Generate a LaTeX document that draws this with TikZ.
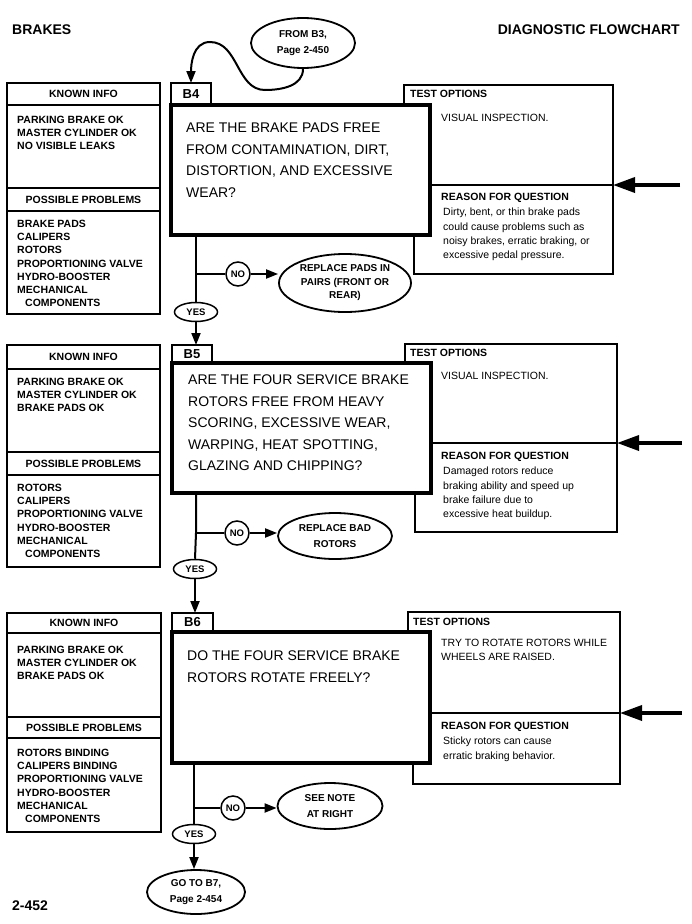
\documentclass[tikz,border=0pt]{standalone}
\usepackage{fontspec}
\setmainfont{Liberation Sans}
\usetikzlibrary{arrows.meta,shapes.geometric}
\begin{document}
\begin{tikzpicture}[x=1pt,y=1pt,
  box/.style={draw, line width=1.1pt, inner sep=0pt, outer sep=0pt, fill=white},
  thinl/.style={line width=1.1pt},
  qbox/.style={draw, line width=4pt, inner sep=0pt, outer sep=0pt, fill=white},
  hd/.style={font=\fontsize{10.5}{12}\selectfont\bfseries, inner sep=0pt},
  lst/.style={font=\fontsize{10.5}{13.1}\selectfont\bfseries, align=left, inner sep=0pt, anchor=north west},
  rsn/.style={font=\fontsize{10.5}{14.2}\selectfont, align=left, inner sep=0pt, anchor=north west},
  qtxt/.style={font=\fontsize{14}{21.5}\selectfont, align=left, inner sep=0pt, anchor=north west},
  blab/.style={font=\fontsize{13}{14}\selectfont\bfseries},
  oval/.style={draw, ellipse, line width=1.8pt, fill=white, inner sep=0pt, align=center, font=\fontsize{10}{15.5}\selectfont\bfseries},
  small/.style={draw, ellipse, line width=1.5pt, fill=white, inner sep=0pt, font=\fontsize{9.5}{10}\selectfont\bfseries},
  conn/.style={line width=2pt},
  arr/.style={line width=2pt, -{Triangle[length=12pt,width=9pt]}},
  big/.style={line width=3.5pt, -{Triangle[length=22pt,width=15pt]}},
  title/.style={font=\fontsize{14}{16}\selectfont\bfseries, inner sep=0pt}
]
\useasboundingbox[fill=white] (0,0) rectangle (692,-924);

% titles
\node[title, anchor=west] (tl) at (12,-30) {BRAKES};
\node[title, anchor=east] (tr) at (680,-30) {DIAGNOSTIC FLOWCHART};
\node[title, anchor=west] (pg) at (12,-906) {2-452};

% ================= Section B4 =================
\node[box, anchor=north west, minimum width=153pt, minimum height=231pt] (k1) at (7,-83) {};
\draw[thinl] (7,-105) -- (160,-105) (7,-188) -- (160,-188) (7,-211) -- (160,-211);
\node[hd] (k1h) at (83.5,-94) {KNOWN INFO};
\node[lst] (k1t) at (17,-116.2) {PARKING BRAKE OK\\MASTER CYLINDER OK\\NO VISIBLE LEAKS};
\node[hd] (p1h) at (83.5,-199.5) {POSSIBLE PROBLEMS};
\node[lst] (p1t) at (17,-220.2) {BRAKE PADS\\CALIPERS\\ROTORS\\PROPORTIONING VALVE\\HYDRO-BOOSTER\\MECHANICAL\\\hspace*{8pt}COMPONENTS};

\node[box, anchor=north west, minimum width=209pt, minimum height=100pt] (t1) at (404,-85) {};
\node[box, anchor=north west, minimum width=199pt, minimum height=89pt] (r1) at (414,-185) {};
\node[box, blab, anchor=south west, minimum width=40pt, minimum height=22pt] (b4) at (171,-105) {B4};
\node[qbox, anchor=north west, minimum width=259pt, minimum height=130pt] (q1) at (171,-105) {};
\node[qtxt] (q1t) at (186,-123) {ARE THE BRAKE PADS FREE\\FROM CONTAMINATION, DIRT,\\DISTORTION, AND EXCESSIVE\\WEAR?};
\node[hd, anchor=west] (t1h) at (410,-94) {TEST OPTIONS};
\node[rsn] (t1t) at (441,-114) {VISUAL INSPECTION.};
\node[hd, anchor=west] (r1h) at (441,-198) {REASON FOR QUESTION};
\node[rsn] (r1t) at (443,-208) {Dirty, bent, or thin brake pads\\could cause problems such as\\noisy brakes, erratic braking, or\\excessive pedal pressure.};
\coordinate (a1) at (680,-185);
\draw[big] (a1) -- (t1.south east);

\coordinate (j1) at (196,-274);
\node[small, minimum width=24pt, minimum height=24pt] (no1) at (238,-274) {NO};
\node[oval, minimum width=132pt, minimum height=58pt, font=\fontsize{10}{13.5}\selectfont\bfseries] (x1) at (345,-283) {REPLACE PADS IN\\PAIRS (FRONT OR\\REAR)};
\node[small, minimum width=43pt, minimum height=19pt] (y1) at (196,-312) {YES};

% FROM B3
\node[oval, minimum width=104pt, minimum height=50pt] (fr) at (303,-43) {FROM B3,\\Page 2-450};
\draw[arr] (fr.south) to[out=-90,in=0] (265,-90) to[out=180,in=0] (210,-42) to[out=180,in=90] (b4.north);

% ================= Section B5 =================
\node[box, anchor=north west, minimum width=153pt, minimum height=222pt] (k2) at (7,-345) {};
\draw[thinl] (7,-369) -- (160,-369) (7,-452) -- (160,-452) (7,-475) -- (160,-475);
\node[hd] (k2h) at (83.5,-357) {KNOWN INFO};
\node[lst] (k2t) at (17,-378.2) {PARKING BRAKE OK\\MASTER CYLINDER OK\\BRAKE PADS OK};
\node[hd] (p2h) at (83.5,-463.5) {POSSIBLE PROBLEMS};
\node[lst] (p2t) at (17,-484.2) {ROTORS\\CALIPERS\\PROPORTIONING VALVE\\HYDRO-BOOSTER\\MECHANICAL\\\hspace*{8pt}COMPONENTS};

\node[box, anchor=north west, minimum width=212pt, minimum height=99pt] (t2) at (405,-344) {};
\node[box, anchor=north west, minimum width=202pt, minimum height=89pt] (r2) at (415,-443) {};
\node[box, blab, anchor=south west, minimum width=40pt, minimum height=18pt] (b5) at (172,-363) {B5};
\node[qbox, anchor=north west, minimum width=259pt, minimum height=130pt] (q2) at (172,-363) {};
\node[qtxt] (q2t) at (188,-375) {ARE THE FOUR SERVICE BRAKE\\ROTORS FREE FROM HEAVY\\SCORING, EXCESSIVE WEAR,\\WARPING, HEAT SPOTTING,\\GLAZING AND CHIPPING?};
\node[hd, anchor=west] (t2h) at (410,-353) {TEST OPTIONS};
\node[rsn] (t2t) at (441,-372) {VISUAL INSPECTION.};
\node[hd, anchor=west] (r2h) at (441,-457) {REASON FOR QUESTION};
\node[rsn] (r2t) at (443,-467) {Damaged rotors reduce\\braking ability and speed up\\brake failure due to\\excessive heat buildup.};
\coordinate (a2) at (682,-443);
\draw[big] (a2) -- (t2.south east);

\coordinate (j2) at (196,-533);
\node[small, minimum width=24pt, minimum height=24pt] (no2) at (237,-533) {NO};
\node[oval, minimum width=114pt, minimum height=46pt] (x2) at (335,-536) {REPLACE BAD\\ROTORS};
\node[small, minimum width=43pt, minimum height=19pt] (y2) at (195,-569) {YES};

% ================= Section B6 =================
\node[box, anchor=north west, minimum width=154pt, minimum height=219pt] (k3) at (7,-613) {};
\draw[thinl] (7,-633) -- (161,-633) (7,-717) -- (161,-717) (7,-738) -- (161,-738);
\node[hd] (k3h) at (84,-623) {KNOWN INFO};
\node[lst] (k3t) at (17,-646.2) {PARKING BRAKE OK\\MASTER CYLINDER OK\\BRAKE PADS OK};
\node[hd] (p3h) at (84,-727.5) {POSSIBLE PROBLEMS};
\node[lst] (p3t) at (17,-749.2) {ROTORS BINDING\\CALIPERS BINDING\\PROPORTIONING VALVE\\HYDRO-BOOSTER\\MECHANICAL\\\hspace*{8pt}COMPONENTS};

\node[box, anchor=north west, minimum width=212pt, minimum height=101pt] (t3) at (408,-612) {};
\node[box, anchor=north west, minimum width=207pt, minimum height=71pt] (r3) at (413,-713) {};
\node[box, blab, anchor=south west, minimum width=41pt, minimum height=19pt] (b6) at (172,-632) {B6};
\node[qbox, anchor=north west, minimum width=258pt, minimum height=131pt] (q3) at (172,-632) {};
\node[qtxt] (q3t) at (187,-651) {DO THE FOUR SERVICE BRAKE\\ROTORS ROTATE FREELY?};
\node[hd, anchor=west] (t3h) at (413,-622) {TEST OPTIONS};
\node[rsn] (t3t) at (441,-639) {TRY TO ROTATE ROTORS WHILE\\WHEELS ARE RAISED.};
\node[hd, anchor=west] (r3h) at (441,-727) {REASON FOR QUESTION};
\node[rsn] (r3t) at (443,-737) {Sticky rotors can cause\\erratic braking behavior.};
\coordinate (a3) at (682,-713);
\draw[big] (a3) -- (t3.south east);

\coordinate (j3) at (194,-808);
\node[small, minimum width=24pt, minimum height=24pt] (no3) at (233,-808) {NO};
\node[oval, minimum width=105pt, minimum height=46pt] (x3) at (330,-806) {SEE NOTE\\AT RIGHT};
\node[small, minimum width=43pt, minimum height=19pt] (y3) at (194,-834) {YES};
\node[oval, minimum width=98pt, minimum height=44pt] (go) at (196,-892) {GO TO B7,\\Page 2-454};

% ================= connectors =================
\draw[conn] (q1.south -| j1) -- (j1) -- (y1.north);
\draw[conn] (j1) -- (no1.west);
\draw[arr] (no1.east) -- (no1.east -| x1.west);
\draw[arr] (y1.south) -- (y1.south |- b5.north);

\draw[conn] (q2.south -| j2) -- (j2) -- (y2.north);
\draw[conn] (j2) -- (no2.west);
\draw[arr] (no2.east) -- (no2.east -| x2.west);
\draw[arr] (y2.south) -- (y2.south |- b6.north);

\draw[conn] (q3.south -| j3) -- (j3) -- (y3.north);
\draw[conn] (j3) -- (no3.west);
\draw[arr] (no3.east) -- (no3.east -| x3.west);
\draw[arr] (y3.south) -- (y3.south |- go.north);
\end{tikzpicture}
\end{document}
